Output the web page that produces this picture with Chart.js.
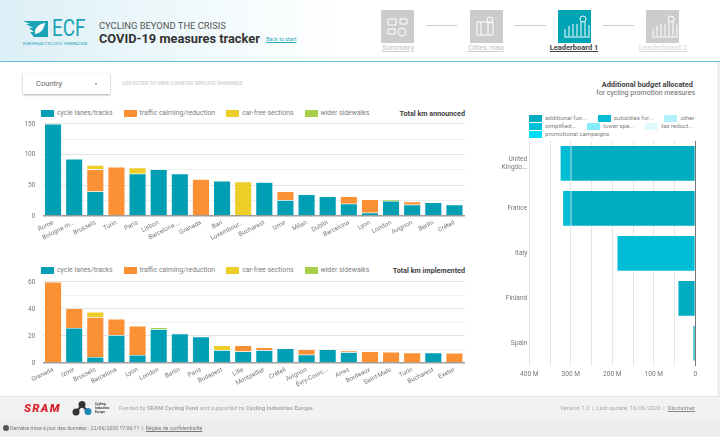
<!DOCTYPE html>
<html>
<head>
<meta charset="utf-8">
<title>COVID-19 measures tracker</title>
<script src="https://cdn.jsdelivr.net/npm/chart.js@4"></script>
<style>
html, body { margin: 0; padding: 0; background: #fff; }
body { width: 720px; height: 437px; overflow: hidden; position: relative; font-family: Roboto, sans-serif; color: #666; }
.abs { position: absolute; white-space: nowrap; }
canvas { position: absolute; display: block; }
#header { left: 0; top: 0; width: 720px; height: 61px; background: linear-gradient(90deg, #dcEFF6 0, #eef8fb 170px, #fff 340px); border-bottom: 1px solid #62c3d3; }
.step { width: 33px; height: 33px; top: 10px; background: #ccc; }
.stepline { top: 25px; height: 1px; background: #ccc; }
.steplabel { top: 43px; width: 80px; text-align: center; font-size: 7.5px; font-weight: 500; color: #ccc; text-decoration: underline; }
.legend { display: flex; gap: 11px; font-size: 6.9px; color: #808080; line-height: 8px; }
.legend span.item { display: flex; align-items: center; gap: 3px; }
.legend i { display: block; width: 13px; height: 7px; }
#legendBudget .legend { font-size: 6.1px; }
.chart-title { font-size: 7.2px; font-weight: 700; color: #444; text-align: right; }
#strip { left: 717px; top: 62px; width: 3px; height: 334px; background: #efefef; }
#footer { left: 0; top: 396px; width: 720px; height: 25px; background: #f2f2f2; box-shadow: 0 1px 2px rgba(0,0,0,.25); border-top: 1px solid #e4e4e4; box-sizing: border-box; }
#bottom { left: 0; top: 421px; width: 720px; height: 16px; background: #ececec; }
</style>
</head>
<body>
<div class="abs" id="header"></div>
<svg class="abs" style="left:23px;top:20px" width="26" height="18" viewBox="0 0 26 18">
  <path d="M0 1h25v16H11L7 12h4L6 8h4L3 4h4z" fill="#1aa3b5"/>
  <path d="M12 14c-1-6 4-10 10-11-1 6-4 10-10 11z" fill="#fff"/>
</svg>
<div class="abs" style="left:52px;top:14px;font-size:23px;line-height:30px;color:#1aa3b5;transform:scaleX(.82);transform-origin:left">ECF</div>
<div class="abs" style="left:23px;top:41px;font-size:4px;line-height:5px;color:#1aa3b5">EUROPEAN CYCLISTS' FEDERATION</div>
<div class="abs" style="left:99px;top:19px;font-size:9.4px;line-height:13px;color:#555">CYCLING BEYOND THE CRISIS</div>
<div class="abs" style="left:99px;top:30px;font-size:12.8px;line-height:17px;font-weight:700;color:#333">COVID-19 measures tracker</div>
<div class="abs" style="left:266px;top:36px;font-size:5.4px;line-height:7px;color:#29a9bd;text-decoration:underline">Back to start</div>

<div class="abs step" style="left:381px"></div>
<div class="abs stepline" style="left:426px;width:31px"></div>
<div class="abs step" style="left:470px"></div>
<div class="abs stepline" style="left:514px;width:32px"></div>
<div class="abs step" style="left:558px;background:#00a5b5"></div>
<div class="abs stepline" style="left:603px;width:31px"></div>
<div class="abs step" style="left:646px"></div>
<svg class="abs" style="left:381px;top:10px" width="300" height="33" viewBox="0 0 300 33" fill="none" stroke="#fff" stroke-width="1">
  <path d="M7 9h8v6H7zM19 9h7v5h-7zM7 19h7v5H7z"/><circle cx="21" cy="22" r="4"/>
  <path d="M96 12h16v13H96zM100 12v13M107 12v13"/><circle cx="109" cy="10" r="3"/>
  <path d="M184 26V19M188 26V16M192 26V14M196 26V14M200 26V12M204 26V12M208 26V15M183 27h26"/><circle cx="202" cy="9" r="3"/>
  <path d="M272 26V19M276 26V16M280 26V14M284 26V14M288 26V12M292 26V12M296 26V15M271 27h26"/><circle cx="290" cy="9" r="3"/>
</svg>
<div class="abs steplabel" style="left:358px">Summary</div>
<div class="abs steplabel" style="left:446px">Cities map</div>
<div class="abs steplabel" style="left:534px;color:#444;font-weight:700">Leaderboard 1</div>
<div class="abs steplabel" style="left:623px;color:#ddd">Leaderboard 2</div>

<div class="abs" style="left:23px;top:73px;width:87px;height:21px;background:#fff;box-shadow:0 1px 2px rgba(0,0,0,.35)"></div>
<div class="abs" style="left:36px;top:78px;font-size:7.5px;line-height:11px;color:#666">Country</div>
<div class="abs" style="left:95px;top:83px;border:1.5px solid transparent;border-top:2px solid #666"></div>
<div class="abs" style="left:122px;top:80px;font-size:5.1px;line-height:7px;font-weight:500;color:#ccc">USE FILTER TO VIEW COUNTRY SPECIFIC RANKINGS</div>

<div class="abs legend" id="legendAnnounced" style="left:41px;top:109px"></div>
<div class="abs chart-title" style="right:255px;top:109px">Total km announced</div>
<canvas id="announcedChart" width="480" height="133" style="left:0;top:113px"></canvas>

<div class="abs legend" id="legendImplemented" style="left:41px;top:266px"></div>
<div class="abs chart-title" style="right:255px;top:266px">Total km implemented</div>
<canvas id="implementedChart" width="480" height="127" style="left:0;top:271px"></canvas>

<div class="abs chart-title" style="right:27px;top:80px;font-size:7.4px">Additional budget allocated</div>
<div class="abs" style="right:25px;top:89px;font-size:7px;line-height:9px;color:#666">for cycling promotion measures</div>
<div class="abs" id="legendBudget" style="left:529px;top:114px"></div>
<canvas id="budgetChart" width="240" height="250" style="left:480px;top:135px"></canvas>

<div class="abs" id="strip"></div>
<div class="abs" id="footer"></div>
<div class="abs" id="bottom"></div>
<div class="abs" style="left:24px;top:402px;font-size:11.5px;line-height:12px;font-weight:900;font-style:italic;color:#d9232e;letter-spacing:1.3px">SRAM</div>
<svg class="abs" style="left:72px;top:400px" width="20" height="16" viewBox="0 0 20 16">
  <path d="M4 12L10 5l6 7" stroke="#333" stroke-width="2" fill="none"/>
  <circle cx="4" cy="12" r="3.5" fill="#333"/><circle cx="10" cy="4.5" r="3.5" fill="#333"/><circle cx="16" cy="11.5" r="3.5" fill="#1f86b0"/>
</svg>
<div class="abs" style="left:95px;top:402px;font-size:3.2px;line-height:4px;font-weight:700;color:#444">Cycling<br>Industries<br>Europe</div>
<div class="abs" style="left:119px;top:404px;font-size:5.8px;line-height:8px;color:#aaa">Funded by <b>SRAM Cycling Fund</b> and supported by <b>Cycling Industries Europe</b>.</div>
<div class="abs" style="right:25px;top:404px;font-size:5.8px;line-height:8px;color:#aaa">Version 1.0 &nbsp;|&nbsp; Last update: 16/06/2020 &nbsp;|&nbsp; <u style="color:#888">Disclaimer</u></div>
<div class="abs" style="left:3px;top:425px;width:6px;height:6px;border-radius:50%;background:#555"></div>
<div class="abs" style="left:10px;top:425px;font-size:5.2px;line-height:7px;color:#777">Dernière mise à jour des données : 22/06/2020 17:06:11 &nbsp;|&nbsp; <u>Règles de confidentialité</u></div>

<script>
var measureNames = ['cycle lanes/tracks', 'traffic calming/reduction', 'car-free sections', 'wider sidewalks'];
var measureColors = ['#009fb3', '#fb9134', '#edcd28', '#a8cf4a'];

var announcedCities = ['Rome', 'Bologna m...', 'Brussels', 'Turin', 'Paris', 'Lisbon', 'Barcelona ...', 'Granada', 'Bari', 'Luxembour...', 'Bucharest', 'Izmir', 'Milan', 'Dublin', 'Barcelona', 'Lyon', 'London', 'Avignon', 'Berlin', 'Créteil'];
var announcedLanes =     [150, 93, 40, 0, 69, 76, 69, 0, 57, 0, 55, 26, 35, 32, 20, 5.5, 24.5, 18.5, 22, 18.5];
var announcedCalming =   [0, 0, 36, 80, 0, 0, 0, 60, 0, 0, 0, 14, 0, 0, 12, 21.5, 0, 5, 0, 0];
var announcedCarFree =   [0, 0, 7, 0, 10, 0, 0, 0, 0, 56, 0, 0, 0, 0, 0, 0, 0, 0, 0, 0];
var announcedSidewalks = [0, 0, 0, 0, 0, 0, 0, 0, 0, 0, 0, 0, 0, 1.5, 0, 0, 2, 0, 0, 0];

var implementedCities = ['Granada', 'Izmir', 'Brussels', 'Barcelona', 'Lyon', 'London', 'Berlin', 'Paris', 'Budapest', 'Lille', 'Montpellier', 'Créteil', 'Avignon', 'Évry-Courc...', 'Arras', 'Bordeaux', 'Saint-Malo', 'Turin', 'Bucharest', 'Exeter'];
var implementedLanes =     [0, 26, 4.5, 20.7, 6, 25, 21.7, 19.5, 9.6, 8.6, 9.6, 10.9, 6.2, 10, 8, 0.3, 0.7, 0.2, 7.7, 0];
var implementedCalming =   [60, 14.5, 29.5, 12, 21.4, 0, 0, 0, 0, 4.4, 2, 0, 3.9, 0, 1.2, 8.3, 7.6, 7.5, 0, 7.4];
var implementedCarFree =   [0, 0, 3.8, 0, 0, 0, 0, 0, 3.5, 0, 0, 0, 0, 0, 0, 0, 0, 0, 0, 0];
var implementedSidewalks = [0, 0, 0, 0, 0, 1.4, 0, 0, 0, 0, 0, 0, 0, 0, 0, 0, 0, 0, 0, 0];

var budgetCountries = [['United', 'Kingdo...'], 'France', 'Italy', 'Finland', 'Spain'];
var budgetNames = ['additional fun...', 'subsidies for...', 'other', 'simplified...', 'lower spe...', 'tax reduct...', 'promotional campaigns'];
var budgetColors = ['#00acc1', '#00bcd4', '#b2f1fb', '#00bfd8', '#84ecfb', '#e0f9fd', '#00def5'];
var budgetAdditional = [300000000, 300000000, 0, 42000000, 6000000];
var budgetSubsidies =  [26000000, 20000000, 189000000, 0, 0];
var budgetOther =      [0, 0, 0, 0, 0];
var budgetSimplified = [0, 0, 0, 0, 0];
var budgetLower =      [0, 0, 0, 0, 0];
var budgetTax =        [0, 0, 0, 0, 0];
var budgetPromo =      [0, 0, 0, 0, 0];
var budgetLegendRows = [[0, 1, 2], [3, 4, 5], [6]];

Chart.defaults.font.family = 'Roboto, sans-serif';
Chart.defaults.animation = false;

function legendItem(name, color) {
    return '<span class="item"><i style="background:' + color + '"></i>' + name + '</span>';
}

document.getElementById('legendAnnounced').innerHTML = measureNames.map(function (n, i) { return legendItem(n, measureColors[i]); }).join('');
document.getElementById('legendImplemented').innerHTML = document.getElementById('legendAnnounced').innerHTML;
document.getElementById('legendBudget').innerHTML = budgetLegendRows.map(function (row) {
    return '<div class="legend">' + row.map(function (i) { return legendItem(budgetNames[i], budgetColors[i]); }).join('') + '</div>';
}).join('');

function stackedCities(id, cities, series, maxValue, step, major, topPad, xHeight) {
    return new Chart(document.getElementById(id), {
        type: 'bar',
        data: {
            labels: cities,
            datasets: series.map(function (values, i) {
                return {
                    label: measureNames[i],
                    data: values,
                    backgroundColor: measureColors[i],
                    borderColor: 'rgba(255,255,255,.55)',
                    borderWidth: 0.6,
                    barPercentage: 0.82,
                    categoryPercentage: 1
                };
            })
        },
        options: {
            responsive: false,
            layout: { padding: { top: topPad, right: 15, left: 0, bottom: 0 } },
            plugins: { legend: { display: false }, tooltip: { enabled: false } },
            scales: {
                x: {
                    stacked: true,
                    grid: { display: false, drawTicks: false },
                    border: { display: false },
                    afterFit: function (scale) { scale.height = xHeight; },
                    ticks: { autoSkip: false, minRotation: 27, maxRotation: 27, padding: 3, color: '#777', font: { size: 6.3 } }
                },
                y: {
                    stacked: true,
                    min: 0,
                    max: maxValue,
                    border: { display: false },
                    afterFit: function (scale) { scale.width = 42.5; },
                    grid: {
                        drawTicks: false,
                        color: function (c) {
                            if (c.tick.value === 0) return '#9e9e9e';
                            return c.tick.value % major === 0 ? '#e3e3e3' : '#f0f0f0';
                        },
                        lineWidth: function (c) { return c.tick.value === 0 ? 1.5 : 1; }
                    },
                    ticks: {
                        stepSize: step,
                        padding: 7,
                        color: '#777',
                        font: { size: 6.6 },
                        callback: function (v) { return v % major === 0 ? v : ''; }
                    }
                }
            }
        }
    });
}

stackedCities('announcedChart', announcedCities, [announcedLanes, announcedCalming, announcedCarFree, announcedSidewalks], 150, 25, 50, 8, 30);
stackedCities('implementedChart', implementedCities, [implementedLanes, implementedCalming, implementedCarFree, implementedSidewalks], 60, 10, 20, 8, 35);

var budgetSeries = [budgetAdditional, budgetSubsidies, budgetOther, budgetSimplified, budgetLower, budgetTax, budgetPromo];

new Chart(document.getElementById('budgetChart'), {
    type: 'bar',
    data: {
        labels: budgetCountries,
        datasets: budgetSeries.map(function (values, i) {
            return {
                label: budgetNames[i],
                data: values,
                backgroundColor: budgetColors[i],
                borderColor: 'rgba(255,255,255,.55)',
                borderWidth: 0.6,
                barPercentage: 0.8,
                categoryPercentage: 1
            };
        })
    },
    options: {
        indexAxis: 'y',
        responsive: false,
        layout: { padding: { top: 4, right: 24.7, left: 0, bottom: 0 } },
        plugins: { legend: { display: false }, tooltip: { enabled: false } },
        scales: {
            x: {
                stacked: true,
                reverse: true,
                min: 0,
                max: 400000000,
                border: { display: false },
                afterFit: function (scale) { scale.height = 19.3; },
                grid: {
                    drawTicks: false,
                    color: function (c) { return c.tick.value === 0 ? '#777' : '#e6e6e6'; }
                },
                ticks: {
                    stepSize: 50000000,
                    padding: 5,
                    maxRotation: 0,
                    autoSkip: false,
                    color: '#777',
                    font: { size: 6.6 },
                    callback: function (v) {
                        if (v === 0) return '0';
                        return v % 100000000 === 0 ? (v / 1000000) + ' M' : '';
                    }
                }
            },
            y: {
                stacked: true,
                grid: { display: false, drawTicks: false },
                border: { display: false },
                afterFit: function (scale) { scale.width = 49.3; },
                ticks: { padding: 2, color: '#777', font: { size: 6.6 }, autoSkip: false }
            }
        }
    }
});
</script>
</body>
</html>
